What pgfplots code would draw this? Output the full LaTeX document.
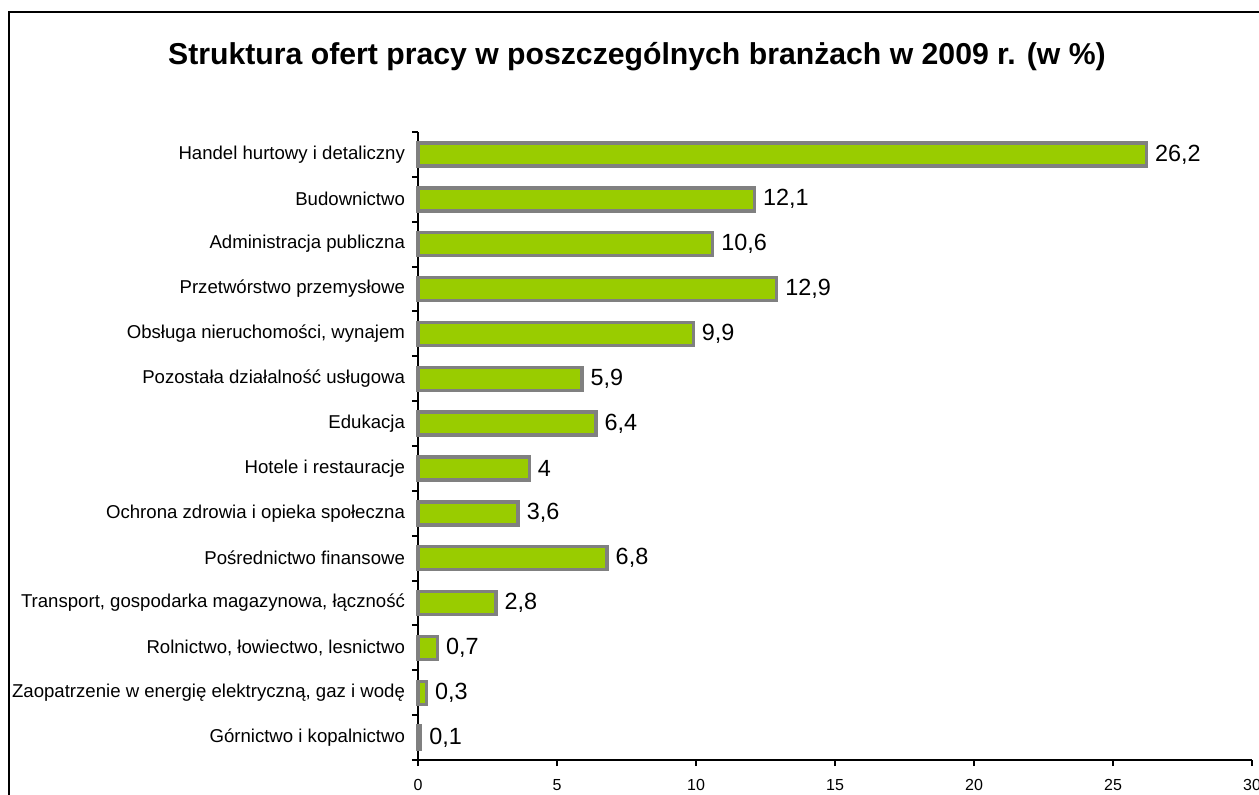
\documentclass[border=0pt]{standalone}
\usepackage{pgfplots}
\pgfplotsset{compat=1.18}
\usepackage{fontspec}
\setmainfont{Liberation Sans}
\definecolor{bargreen}{HTML}{99CC00}
\definecolor{bargray}{HTML}{808080}
\begin{document}
\begin{tikzpicture}
\useasboundingbox (0,0) rectangle (629.5pt,-397pt);
\draw[line width=1pt,black] (4.5pt,-430pt) rectangle (660pt,-6pt);
\node[font=\fontsize{15.1pt}{17pt}\selectfont\bfseries] at (318.5pt,-28.5pt) {Struktura ofert pracy w poszczególnych branżach w 2009 r. (w \%)};
\begin{axis}[
  at={(209pt,-380pt)}, anchor=south west,
  scale only axis, width=417pt, height=314pt,
  xbar, bar width=11.5pt,
  xmin=0, xmax=30, ymin=-0.5, ymax=13.5,
  y dir=reverse,
  axis x line=bottom, axis y line=left,
  axis line style={-, line width=1pt, black},
  xtick={0,5,...,30},
  ytick={0,...,13},
  yticklabels={Handel hurtowy i detaliczny,Budownictwo,Administracja publiczna,Przetwórstwo przemysłowe,{Obsługa nieruchomości, wynajem},Pozostała działalność usługowa,Edukacja,Hotele i restauracje,Ochrona zdrowia i opieka społeczna,Pośrednictwo finansowe,{Transport, gospodarka magazynowa, łączność},{Rolnictwo, łowiectwo, lesnictwo},{Zaopatrzenie w energię elektryczną, gaz i wodę},Górnictwo i kopalnictwo},
  minor ytick={-0.5,0.5,...,13.5},
  tick align=outside,
  major tick length=3pt, minor tick length=3pt,
  major y tick style={draw=none},
  minor y tick style={black, line width=1pt},
  major x tick style={black, line width=1pt},
  yticklabel style={font=\fontsize{9.3pt}{11pt}\selectfont, anchor=east},
  xticklabel style={font=\fontsize{8pt}{10pt}\selectfont, yshift=-3pt},
  /pgf/number format/assume math mode=true,
  point meta=explicit symbolic,
  nodes near coords,
  nodes near coords style={font=\fontsize{11.7pt}{13pt}\selectfont, anchor=west, inner sep=1pt, xshift=2.5pt, black},
  clip=false,
]
\addplot[fill=bargreen, draw=bargray, line width=1.7pt] coordinates {
  (26.2,0) [26,2]
  (12.1,1) [12,1]
  (10.6,2) [10,6]
  (12.9,3) [12,9]
  (9.9,4) [9,9]
  (5.9,5) [5,9]
  (6.4,6) [6,4]
  (4,7) [4]
  (3.6,8) [3,6]
  (6.8,9) [6,8]
  (2.8,10) [2,8]
  (0.7,11) [0,7]
  (0.3,12) [0,3]
  (0.1,13) [0,1]
};
\end{axis}
\end{tikzpicture}
\end{document}
